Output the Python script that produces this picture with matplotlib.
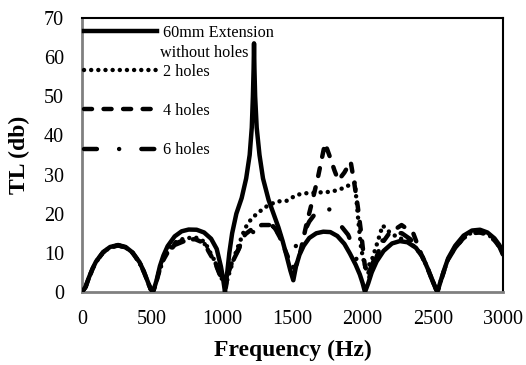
import matplotlib
matplotlib.use("Agg")
import matplotlib.pyplot as plt

plt.rcParams['font.family'] = ['Liberation Serif', 'DejaVu Serif']

# 60mm extension, no holes
f0 = [0, 25, 50, 75, 100, 150, 200, 257, 310, 360, 410, 440, 470, 490, 506, 530, 555, 580, 610, 660,
      710, 760, 817, 870, 920, 960, 990, 1005, 1019, 1035, 1050, 1070, 1100, 1138, 1170, 1195, 1210, 1218, 1223, 1226,
      1229, 1234, 1245, 1265, 1290, 1330, 1370, 1400, 1430, 1460, 1485, 1506, 1525, 1550, 1580, 1620, 1670, 1720, 1770, 1820,
      1870, 1910, 1950, 1980, 2000, 2017, 2040, 2065, 2100, 2150, 2210, 2266, 2320, 2380, 2430, 2470, 2500, 2520, 2533, 2555,
      2580, 2610, 2660, 2720, 2780, 2837, 2890, 2940, 2975, 3000]
tl0 = [0, 1.35, 3.8, 6.0, 7.8, 10.2, 11.5, 12.0, 11.5, 10.1, 7.6, 5.3, 2.5, 0.7, 0, 2.8, 6.6, 9.3, 11.7, 14.2,
       15.5, 15.95, 15.9, 15.2, 13.6, 11.0, 6.5, 3.5, 0, 5.0, 10.0, 15.0, 20.0, 24.0, 29.0, 35.0, 42.0, 50.0, 57.0, 63.5,
       57.0, 50.0, 42.0, 35.0, 29.0, 23.5, 19.5, 16.5, 13.0, 9.0, 5.5, 3.0, 6.5, 9.5, 11.8, 13.8, 15.0, 15.4, 15.3, 14.3,
       12.3, 9.8, 7.0, 4.5, 2.3, 0, 2.2, 5.0, 7.8, 10.5, 12.4, 13.0, 12.7, 11.3, 8.8, 5.5, 2.8, 1.0, 0, 2.6,
       5.5, 8.6, 11.8, 14.4, 15.7, 15.9, 15.2, 13.7, 12.0, 10.0]

# 2 holes
f2 = [0, 25, 50, 75, 100, 150, 200, 257, 310, 360, 410, 440, 470, 490, 506, 530, 555, 580, 610, 660,
      722, 805, 876, 900, 948, 995, 1020, 1060, 1100, 1138, 1162, 1209, 1264, 1321, 1387, 1459, 1530, 1590, 1680, 1779,
      1860, 1945, 1970, 1990, 2020, 2060, 2100, 2143, 2200, 2260, 2320, 2380, 2430, 2470, 2500, 2533, 2555, 2580, 2610, 2660,
      2720, 2780, 2837, 2890, 2940, 2975, 3000]
tl2 = [0, 1.3, 3.7, 5.9, 7.7, 10.1, 11.4, 11.9, 11.4, 10.0, 7.5, 5.2, 2.4, 0.7, 0, 2.6, 6.0, 8.4, 10.4, 12.6,
       13.6, 14.0, 12.8, 11.0, 7.8, 3.5, 1.5, 6.0, 10.5, 14.0, 16.3, 18.8, 20.5, 22.0, 23.1, 23.3, 24.8, 25.2, 25.4, 25.6,
       26.5, 28.0, 18.0, 11.0, 6.0, 7.5, 12.0, 17.0, 15.0, 13.8, 13.0, 11.3, 8.8, 5.5, 2.8, 0, 2.6, 5.4, 8.4, 11.5,
       14.0, 15.2, 15.4, 14.8, 13.4, 11.8, 9.8]

# 4 holes
f4 = [0, 25, 50, 75, 100, 150, 200, 257, 310, 360, 410, 440, 470, 490, 506, 530, 555, 580, 610, 660,
      722, 805, 876, 900, 948, 995, 1025, 1043, 1067, 1114, 1162, 1209, 1280, 1363, 1410, 1450, 1490, 1515, 1540, 1565,
      1601, 1640, 1680, 1732, 1767, 1800, 1827, 1870, 1915, 1940, 1965, 1990, 2015, 2045, 2080, 2130, 2190, 2278, 2361, 2400,
      2430, 2470, 2500, 2533, 2555, 2580, 2610, 2660, 2720, 2780, 2837, 2890, 2940, 2975, 3000]
tl4 = [0, 1.3, 3.7, 5.9, 7.7, 10.1, 11.4, 11.9, 11.4, 10.0, 7.5, 5.2, 2.4, 0.7, 0, 2.6, 5.9, 8.2, 10.1, 12.3,
       13.2, 13.5, 12.4, 10.5, 7.5, 3.2, 1.2, 4.8, 7.4, 10.9, 14.7, 16.0, 17.1, 17.1, 14.0, 10.5, 7.0, 6.0, 8.0, 11.6,
       17.5, 23.0, 29.0, 38.0, 34.5, 31.0, 28.5, 30.5, 33.3, 28.0, 22.0, 15.0, 7.0, 3.5, 7.0, 12.0, 15.0, 17.1, 15.0, 11.3,
       8.6, 5.4, 2.7, 0, 2.5, 5.3, 8.3, 11.3, 13.8, 15.0, 15.2, 14.6, 13.2, 11.6, 9.6]

# 6 holes
f6 = [0, 25, 50, 75, 100, 150, 200, 257, 310, 360, 410, 440, 470, 490, 506, 530, 555, 580, 610, 660,
      722, 805, 876, 900, 948, 995, 1025, 1043, 1067, 1114, 1162, 1209, 1257, 1300, 1363, 1400, 1447, 1490, 1520, 1565,
      1620, 1708, 1767, 1815, 1850, 1897, 1922, 1945, 1980, 2010, 2045, 2090, 2160, 2215, 2280, 2340, 2400, 2430, 2470, 2500,
      2533, 2555, 2580, 2610, 2660, 2720, 2780, 2837, 2890, 2940, 2975, 3000]
tl6 = [0, 1.3, 3.7, 5.9, 7.7, 10.1, 11.4, 11.9, 11.4, 10.0, 7.5, 5.2, 2.4, 0.7, 0, 2.6, 5.8, 8.0, 9.9, 12.0,
       12.9, 13.3, 12.2, 10.3, 7.7, 3.5, 1.0, 4.8, 7.3, 10.7, 14.6, 15.4, 15.0, 16.5, 16.8, 15.0, 13.0, 11.0, 11.5, 14.0,
       18.0, 22.2, 21.0, 19.2, 16.7, 14.6, 12.4, 9.5, 6.0, 4.5, 5.0, 9.0, 14.6, 15.2, 15.0, 13.5, 11.0, 8.6, 5.4, 2.7,
       0, 2.5, 5.3, 8.3, 11.3, 13.8, 15.0, 15.2, 14.6, 13.2, 11.6, 9.6]

labels = ['60mm Extension', '2 holes', '4 holes', '6 holes']
xticks = [0, 500, 1000, 1500, 2000, 2500, 3000]
yticks = [0, 10, 20, 30, 40, 50, 60, 70]

fig = plt.figure(figsize=(5.26, 3.65), dpi=100)
ax = fig.add_axes([0.156, 0.2, 0.8, 0.751])

lw = 3.2
ax.plot(f2, tl2, color='black', lw=lw, linestyle=(0, (0.01, 1.6)), dash_capstyle='round',
        label=labels[1], zorder=2)
ax.plot(f4, tl4, color='black', lw=lw, linestyle=(0, (1.8, 2.6)), dash_capstyle='round',
        label=labels[2], zorder=2)
ax.plot(f6, tl6, color='black', lw=lw, linestyle=(0, (2.9, 5.0, 0.01, 5.0)), dash_capstyle='round',
        label=labels[3], zorder=2)
ax.plot(f0, tl0, color='black', lw=lw, solid_joinstyle='round', label=labels[0], zorder=3)

ax.set_xlim(0, 3000)
ax.set_ylim(0, 70)
ax.set_xticks(xticks)
ax.set_yticks(yticks)
ax.tick_params(length=0, labelsize=14.5)
ax.tick_params(axis='x', pad=13)
ax.tick_params(axis='y', pad=13)

for s in ['left', 'bottom']:
    ax.spines[s].set_color('#808080')
    ax.spines[s].set_linewidth(2)
for s in ['top', 'right']:
    ax.spines[s].set_color('black')
    ax.spines[s].set_linewidth(1.5)

ax.set_xlabel('Frequency (Hz)', fontsize=17, fontweight='bold', labelpad=8)
ax.set_ylabel('TL (db)', fontsize=17, fontweight='bold', labelpad=10)

handles, labs = ax.get_legend_handles_labels()
order = [3, 0, 1, 2]
leg = ax.legend([handles[i] for i in order], [labs[i] for i in order],
                loc='upper left', bbox_to_anchor=(0.0, 0.98), frameon=False,
                fontsize=11.7, handlelength=4.5, handletextpad=0.4,
                labelspacing=1.42, borderaxespad=0, borderpad=0.1)
ax.text(0.185, 0.872, 'without holes', transform=ax.transAxes, fontsize=11.7, va='center')

fig.savefig('out.png', dpi=100)
